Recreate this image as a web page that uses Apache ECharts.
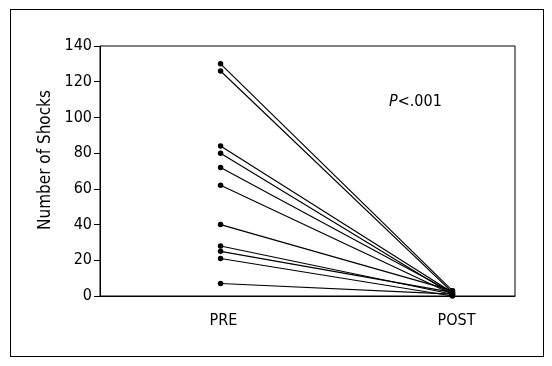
<!DOCTYPE html>
<html>
<head>
<meta charset="utf-8">
<script src="https://cdn.jsdelivr.net/npm/echarts@6/dist/echarts.min.js"></script>
<style>
  html, body { margin: 0; padding: 0; background: #fff; }
  #frame { position: absolute; left: 10px; top: 9px; width: 532px; height: 346px; border: 1px solid #000; }
  #chart { position: absolute; left: 0; top: 0; width: 552px; height: 366px; }
</style>
</head>
<body>
<div id="frame"></div>
<div id="chart"></div>
<script>
const timepoints = ["PRE", "POST"]
const preShocks = [130, 126, 84, 80, 72, 62, 40, 28, 25, 21, 7]
const postShocks = [3, 2, 2, 1, 2, 1, 3, 1, 2, 0, 1]
const yTicks = [0, 20, 40, 60, 80, 100, 120, 140]

const font = "'DejaVu Sans Condensed', 'Liberation Sans Narrow', sans-serif"

const chart = echarts.init(document.getElementById("chart"))

const series = preShocks.map((pre, i) => ({
  type: "line",
  data: [
    [1, pre],
    [2, postShocks[i]],
  ],
  symbol: "circle",
  symbolSize: 5.5,
  itemStyle: { color: "#000" },
  lineStyle: { color: "#000", width: 1.2 },
  silent: true,
}))

const option = {
  animation: false,
  grid: {
    left: 100,
    right: 37,
    top: 46,
    bottom: 70,
    show: true,
    borderColor: "#000",
    borderWidth: 1,
  },
  title: {
    text: "{i|P}<.001",
    left: 384,
    top: 89,
    textStyle: {
      fontFamily: font,
      fontSize: 16,
      fontWeight: "normal",
      color: "#000",
      rich: {
        i: { fontFamily: font, fontSize: 16, fontStyle: "italic", color: "#000" },
      },
    },
  },
  xAxis: {
    type: "value",
    min: 0.48,
    max: 2.27,
    splitLine: { show: false },
    axisLine: { show: true, lineStyle: { color: "#000" } },
    axisTick: { show: false },
    axisLabel: {
      // labels sit a few px right of the point columns in the original
      customValues: [1.012, 2.018],
      formatter: (v) => timepoints[Math.round(v) - 1] || "",
      fontFamily: font,
      fontSize: 16,
      color: "#000",
      margin: 17,
    },
  },
  yAxis: {
    type: "value",
    min: yTicks[0],
    max: yTicks[yTicks.length - 1],
    interval: 20,
    name: "Number of Shocks",
    nameLocation: "middle",
    nameGap: 36,
    nameTextStyle: { fontFamily: font, fontSize: 17, color: "#000", padding: [0, 0, 0, 22] },
    splitLine: { show: false },
    axisLine: { show: true, lineStyle: { color: "#000" } },
    axisTick: { show: true, inside: false, length: 6, lineStyle: { color: "#000" } },
    axisLabel: { fontFamily: font, fontSize: 16, color: "#000", margin: 8 },
  },
  series: series,
}

chart.setOption(option)
</script>
</body>
</html>
